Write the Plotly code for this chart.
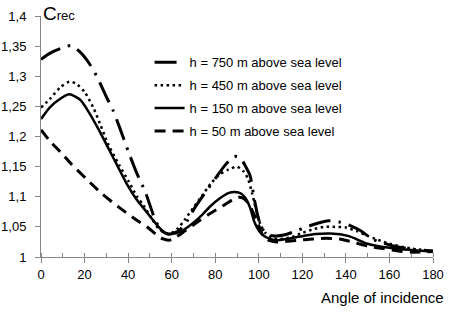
import plotly.graph_objects as go

# ---- data ----
angles_750 = [0, 4, 9, 14, 18, 22, 26, 30, 33, 36, 40, 44, 48, 52, 55, 58, 61, 64, 67, 71, 76, 80, 84, 88, 90, 92, 94, 96, 98, 100, 102, 105, 108, 112, 117, 122, 127, 132, 137, 142, 147, 152, 160, 170, 180]
crec_750 = [1.328, 1.338, 1.346, 1.351, 1.340, 1.322, 1.297, 1.266, 1.244, 1.216, 1.176, 1.139, 1.107, 1.066, 1.045, 1.038, 1.040, 1.046, 1.059, 1.084, 1.110, 1.130, 1.150, 1.165, 1.167, 1.162, 1.150, 1.135, 1.095, 1.062, 1.045, 1.036, 1.035, 1.037, 1.043, 1.050, 1.056, 1.060, 1.058, 1.052, 1.043, 1.030, 1.020, 1.013, 1.010]

angles_450 = [0, 4, 9, 13, 16, 20, 24, 27, 31, 36, 40, 44, 47, 51, 54, 57, 60, 63, 66, 70, 74, 78, 82, 86, 90, 93, 95, 97, 99, 101, 103, 106, 110, 115, 120, 125, 130, 135, 140, 145, 150, 160, 170, 180]
crec_450 = [1.248, 1.262, 1.282, 1.291, 1.288, 1.274, 1.248, 1.222, 1.186, 1.152, 1.127, 1.101, 1.086, 1.063, 1.047, 1.040, 1.040, 1.048, 1.062, 1.082, 1.102, 1.122, 1.137, 1.145, 1.150, 1.142, 1.130, 1.105, 1.075, 1.052, 1.040, 1.032, 1.030, 1.033, 1.040, 1.046, 1.050, 1.050, 1.049, 1.043, 1.035, 1.022, 1.014, 1.010]

angles_150 = [0, 4, 9, 13, 18, 22, 27, 31, 35, 39, 44, 48, 51, 54, 57, 60, 64, 70, 74, 78, 82, 86, 89, 92, 94, 96, 98, 100, 102, 105, 108, 113, 119, 126, 133, 141, 150, 158, 166, 180]
crec_150 = [1.229, 1.248, 1.263, 1.270, 1.261, 1.240, 1.208, 1.180, 1.152, 1.124, 1.095, 1.077, 1.063, 1.050, 1.040, 1.038, 1.042, 1.057, 1.070, 1.085, 1.097, 1.106, 1.108, 1.105, 1.097, 1.082, 1.058, 1.044, 1.036, 1.030, 1.028, 1.030, 1.034, 1.038, 1.039, 1.035, 1.022, 1.016, 1.013, 1.009]

angles_50 = [0, 4, 9, 14, 21, 28, 36, 44, 49, 53, 56, 59, 62, 66, 73, 78, 84, 88, 91, 93, 95, 97, 99, 102, 105, 108, 113, 119, 125, 131, 137, 143, 150, 157, 164, 170, 180]
crec_50 = [1.211, 1.193, 1.174, 1.154, 1.129, 1.105, 1.082, 1.061, 1.049, 1.037, 1.030, 1.028, 1.033, 1.043, 1.061, 1.073, 1.086, 1.095, 1.099, 1.097, 1.090, 1.077, 1.062, 1.035, 1.027, 1.025, 1.026, 1.028, 1.030, 1.031, 1.030, 1.025, 1.018, 1.014, 1.010, 1.008, 1.009]

series_names = ["h = 750 m above sea level", "h = 450 m above sea level",
                "h = 150 m above sea level", "h = 50 m above sea level"]

x_tickvals = [0, 20, 40, 60, 80, 100, 120, 140, 160, 180]
x_ticktext = ["0", "20", "40", "60", "80", "100", "120", "140", "160", "180"]
y_tickvals = [1.0, 1.05, 1.1, 1.15, 1.2, 1.25, 1.3, 1.35, 1.4]
y_ticktext = ["1", "1,05", "1,1", "1,15", "1,2", "1,25", "1,3", "1,35", "1,4"]

x_title = "Angle of incidence"
y_title_main = "C"
y_title_sub = "rec"

# ---- figure ----
FONT = "Liberation Sans, Arial, sans-serif"
AXIS_COL = "#868686"

styles = [
    dict(width=3, dash="22px,8px,2.5px,8px"),
    dict(width=2.5, dash="2.5px,3.5px"),
    dict(width=2.5, dash="solid"),
    dict(width=3, dash="11px,7px"),
]
xs = [angles_750, angles_450, angles_150, angles_50]
ys = [crec_750, crec_450, crec_150, crec_50]

fig = go.Figure()
for i in range(4):
    fig.add_trace(go.Scatter(
        x=xs[i], y=ys[i], mode="lines", name=series_names[i],
        legendgroup="g%d" % i,
        line=dict(color="black", width=styles[i]["width"], dash=styles[i]["dash"],
                  shape="spline", smoothing=0.7),
    ))

fig.update_layout(
    width=449, height=312,
    margin=dict(l=41, r=16, t=16, b=55),
    plot_bgcolor="white", paper_bgcolor="white",
    font=dict(family=FONT, size=13, color="black"),
    showlegend=True,
    legend=dict(x=0.277, y=0.87, xanchor="left", yanchor="top",
                bgcolor="rgba(0,0,0,0)", borderwidth=0,
                font=dict(family=FONT, size=13, color="black"),
                tracegroupgap=3),
    xaxis=dict(range=[0, 180], showgrid=False, zeroline=False, automargin=False,
               showline=True, linecolor=AXIS_COL, linewidth=1,
               ticks="outside", ticklen=5, tickcolor=AXIS_COL, tickwidth=1,
               tickvals=x_tickvals, ticktext=x_ticktext,
               minor=dict(dtick=10, ticks="inside", ticklen=4, tickcolor=AXIS_COL, tickwidth=1),
               tickfont=dict(size=13, color="black")),
    yaxis=dict(range=[1, 1.4], showgrid=False, zeroline=False, automargin=False,
               showline=True, linecolor=AXIS_COL, linewidth=1,
               ticks="outside", ticklen=5, tickcolor=AXIS_COL, tickwidth=1,
               tickvals=y_tickvals, ticktext=y_ticktext, ticklabelstandoff=6,
               tickfont=dict(size=13, color="black")),
)

fig.add_annotation(
    xref="paper", yref="paper", x=1.033, y=-0.17, xanchor="right", yanchor="middle",
    text=x_title, showarrow=False, font=dict(family=FONT, size=15, color="black"))
fig.add_annotation(
    xref="paper", yref="paper", x=0.0, y=1.01, xanchor="left", yanchor="middle",
    text=y_title_main + "<span style='font-size:13px'>" + y_title_sub + "</span>",
    showarrow=False, font=dict(family=FONT, size=19, color="black"))

fig.write_html("out.html", config={"displayModeBar": False},
               post_script="document.body.style.margin='0';")
